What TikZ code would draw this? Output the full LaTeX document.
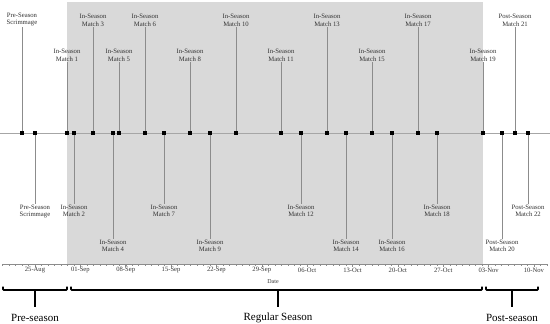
\documentclass[tikz,border=0pt]{standalone}
\usepackage{fontspec}
\setmainfont{Liberation Serif}
\begin{document}
\begin{tikzpicture}[x=1pt,y=-1pt,
  mk/.style={rectangle,fill=black,minimum size=3.2pt,inner sep=0pt},
  lab/.style={font=\fontsize{6.7}{7.6}\selectfont,text=black!80,align=center,inner sep=0.6pt},
  stem/.style={draw=black!45,line width=0.9pt},
  tline/.style={draw=black!35,line width=0.5pt},
  axisline/.style={draw=black!45,line width=0.6pt},
  ticklab/.style={font=\fontsize{6.6}{7.5}\selectfont,text=black!80,inner sep=0pt},
  brace/.style={draw=black,line width=1.6pt,rounded corners=0.8pt},
  seasonlab/.style={font=\fontsize{11}{13}\selectfont,text=black,inner sep=0pt}]
\useasboundingbox (0,0) rectangle (550,324);
% shaded regular season
\fill[black!15] (67,2) rectangle (483,264);
% timeline
\draw[tline] (0,133) -- (550,133);
% events
\foreach \x/\an/\y/\a/\b [count=\i] in {
  22/south/27/Pre-Season/Scrimmage,
  35/north/204/Pre-Season/Scrimmage,
  67/south/62/In-Season/Match 1,
  74/north/204/In-Season/Match 2,
  93/south/27/In-Season/Match 3,
  113/north/239/In-Season/Match 4,
  119/south/62/In-Season/Match 5,
  145/south/27/In-Season/Match 6,
  164/north/204/In-Season/Match 7,
  190/south/62/In-Season/Match 8,
  210/north/239/In-Season/Match 9,
  236/south/27/In-Season/Match 10,
  281/south/62/In-Season/Match 11,
  301/north/204/In-Season/Match 12,
  327/south/27/In-Season/Match 13,
  346/north/239/In-Season/Match 14,
  372/south/62/In-Season/Match 15,
  392/north/239/In-Season/Match 16,
  418/south/27/In-Season/Match 17,
  437/north/204/In-Season/Match 18,
  483/south/62/In-Season/Match 19,
  502/north/239/Post-Season/Match 20,
  515/south/27/Post-Season/Match 21,
  528/north/204/Post-Season/Match 22}{
  \coordinate (c\i) at (\x,133);
  \node[lab,anchor=\an] (l\i) at (\x,\y) {\a\\\b};
  \draw[stem] (c\i) -- (l\i.\an);
  \node[mk] (m\i) at (c\i) {};
}
% date axis
\draw[axisline] (2,264) -- (547,264);
\foreach \d in {-5,...,79}{
  \draw[black!45,line width=0.4pt] ({35+6.48*\d},264) -- ({35+6.48*\d},265.6);
}
\foreach \t [count=\k from 0] in {25-Aug,01-Sep,08-Sep,15-Sep,22-Sep,29-Sep,06-Oct,13-Oct,20-Oct,27-Oct,03-Nov,10-Nov}{
  \draw[black!45,line width=0.5pt] ({35+45.36*\k},264) -- ({35+45.36*\k},266.5);
  \node[ticklab] (t\k) at ({35+45.36*\k},270.5) {\t};
}
\node[ticklab,font=\fontsize{6}{7}\selectfont] (datelab) at (273,282) {Date};
% season braces
\draw[brace] (3,286.5) -- (3,290) -- (67,290) -- (67,286.5);
\draw[brace] (71,286.5) -- (71,290) -- (482,290) -- (482,286.5);
\draw[brace] (486,286.5) -- (486,290) -- (538,290) -- (538,286.5);
\coordinate (b1) at (35,290);
\coordinate (b2) at (278,290);
\coordinate (b3) at (512,290);
\node[seasonlab] (s1) at (35,318) {Pre-season};
\node[seasonlab] (s2) at (278,318) {Regular Season};
\node[seasonlab] (s3) at (512,318) {Post-season};
\draw[draw=black,line width=1.6pt] (b1) -- (35,307);
\draw[draw=black,line width=1.6pt] (b2) -- (278,307);
\draw[draw=black,line width=1.6pt] (b3) -- (512,307);
\end{tikzpicture}
\end{document}
